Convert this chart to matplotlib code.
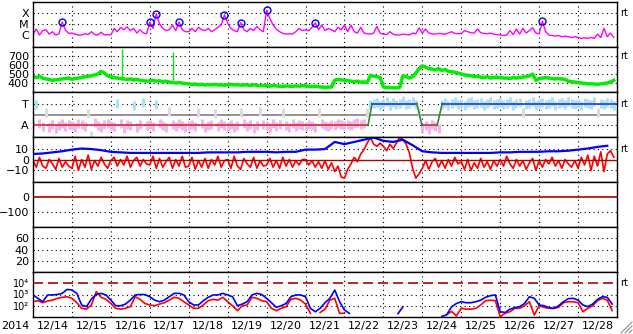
import numpy as np
import matplotlib
matplotlib.use('Agg')
import matplotlib.pyplot as plt
from matplotlib.lines import Line2D

nan = np.nan

# x-ray flux, 2-hourly, in units of 1e-6 W/m2 (C1 = 1)
xray = [1.2, 3.5, 1.0, 2.5, 3.0, 1.2, 2.0, 1.0, 1.3, 15, 2.8, 1.4,
        1.5, 1.2, 1.0, 1.0, 1.3, 1.1, 2.0, 1.1, 1.0, 1.8, 1.0, 1.1,
        1.0, 4.0, 2.0, 5.0, 3.0, 5.5, 2.5, 4.0, 1.5, 3.0, 1.5, 1.3,
        15, 4, 87, 10, 4, 2.5, 3, 8, 2.5, 15, 3, 2,
        2.0, 4, 2, 5, 3, 2.5, 4, 2, 3, 5, 8, 69,
        12, 4, 2.5, 2.0, 13, 3, 2, 4, 2.5, 6, 3, 2,
        180, 32, 8, 3.3, 2.0, 1.4, 1.2, 1.3, 1.2, 2.0, 4.0, 2.5,
        3, 2.5, 5, 12, 3, 8, 2.5, 4, 3, 2, 5, 3,
        8, 2, 8, 2, 1.5, 5, 1.5, 1.3, 1.2, 1.5, 6, 1.4,
        1.2, 1.1, 2.0, 1.2, 1.0, 1.0, 1.2, 1.1, 1.0, 1.5, 1.3, 4.5,
        1.5, 3.5, 1.5, 1.3, 1.2, 1.4, 1.3, 1.2, 1.5, 2.0, 1.4, 1.3,
        1.4, 2.5, 2.0, 1.6, 1.5, 3.5, 1.6, 1.4, 1.3, 1.5, 1.2, 1.1,
        1.0, 0.9, 1.0, 2.5, 1.1, 3.5, 1.2, 4.0, 1.5, 2.5, 4.5, 1.5,
        1.3, 18, 2, 1.0, 0.9, 0.8, 0.9, 0.7, 0.8, 0.7, 0.6, 0.7,
        0.6, 0.5, 0.55, 0.5, 0.6, 0.5, 1.2, 0.6, 4.0, 0.7, 1.5, 0.6]
flare_day = [0.75, 3.0, 3.167, 3.75, 4.917, 5.333, 6.0, 7.25, 13.083]
flare_val = [15, 15, 87, 15, 69, 12, 180, 12, 18]

# solar wind speed, 2-hourly, km/s
speed = [470, 460, 475, 455, 445, 440, 430, 435, 440, 445, 450, 455,
         440, 450, 455, 460, 470, 475, 480, 490, 500, 530, 510, 480,
         470, 460, 455, 450, 445, 440, 445, 435, 440, 430, 425, 420,
         425, 430, 420, 425, 415, 420, 410, 405, 400, 405, 398, 395,
         390, 385, 388, 380, 385, 378, 382, 380, 385, 378, 380, 375,
         380, 385, 378, 382, 375, 380, 378, 372, 380, 375, 370, 372,
         370, 365, 372, 368, 365, 360, 368, 365, 362, 368, 365, 370,
         368, 365, 360, 362, 358, 355, 352, 355, 355, 430, 440, 435,
         430, 425, 420, 415, 420, 410, 412, 405, 485, 475, 470, 460,
         355, 352, 350, 348, 345, 350, 480, 470, 455, 470, 510, 560,
         590, 575, 560, 555, 545, 560, 540, 550, 530, 525, 520, 510,
         500, 490, 485, 480, 470, 475, 465, 460, 470, 455, 460, 465,
         460, 455, 455, 450, 460, 455, 460, 465, 470, 480, 500, 430,
         450, 455, 460, 455, 450, 445, 448, 445, 440, 420, 415, 410,
         405, 400, 395, 390, 392, 388, 385, 390, 395, 400, 410, 430]
speed_spike_day = [2.29, 3.6]
speed_spike_val = [775, 745]

# IMF sector (T = +1, A = -1), 2-hourly
sector = [-1.0, 0.9, -0.8, -1.1, 0.2, -1.2, -0.9, -1.3, -1.0, -0.8, -1.1, -0.9,
          -1.0, -1.2, -0.8, -0.9, -1.1, 0.1, -1.9, -0.7, -1.0, -1.2, -0.9, -0.8,
          -1.0, -1.1, 1.0, -0.8, -1.3, -0.9, -1.0, 0.8, -1.2, -0.9, 1.1, -1.0,
          -0.9, -1.1, 0.9, -0.8, -1.0, -1.2, 0.3, -0.9, -1.1, -0.8, -1.0, -1.2,
          -1.0, -0.9, -1.1, 0.2, -0.8, -1.2, -1.0, -0.9, 0.1, -1.1, -0.8, -1.0,
          -1.1, -0.9, -1.2, -1.0, 0.2, -0.8, -1.1, -0.9, -1.3, -1.0, 0.3, -0.9,
          -1.0, -1.2, -0.8, -1.1, -0.9, 0.2, -1.0, -1.2, -0.8, -1.1, -0.9, -1.0,
          -1.1, -0.9, -1.0, -1.2, 0.2, -0.8, -1.0, -1.1, -0.9, -1.0, -0.8, -0.9,
          -1.0, -0.9, -1.0, -0.8, -0.7, -0.9, -0.8, 0.2, 0.9, 1.0, 1.1, 0.8,
          1.0, 1.2, 0.8, 1.1, 0.9, 1.0, 1.3, 0.9, 1.0, 1.2, 0.9, 0.2,
          -1.2, -1.0, -1.4, -0.9, -1.1, -1.3, 0.9, 1.1, 0.8, 1.0, 1.2, 0.9,
          1.0, 0.8, 1.1, 1.2, 0.9, 1.0, 1.1, 0.8, 1.0, 1.2, 0.9, 1.0,
          1.1, 0.9, 1.0, 1.2, 0.8, 1.0, 1.1, 0.2, 0.9, 1.0, 1.2, 0.8,
          1.0, 1.1, 0.9, 1.0, 1.2, 0.8, 1.0, 1.1, 0.9, 1.2, 1.0, 0.9,
          1.0, 0.8, 1.1, 1.0, 0.9, 1.2, 0.2, 1.0, 0.9, 1.1, 1.0, 0.8]
state_day = [0, 8.605, 8.71, 9.86, 9.99, 10.38, 10.51, 15]
state_lvl = [-1, -1, 1, 1, -1, -1, 1, 1]

# IMF Bt (6-hourly) and Bz (2-hourly), nT
bt = [5, 5.5, 6.5, 7.5, 9, 10, 9.5, 8.5, 7, 6.5, 6, 6,
      6, 6, 6, 6, 6, 6, 6.5, 6.5, 6.5, 6.5, 7, 7,
      7, 6.5, 7, 7, 9, 9, 9.5, 16, 14, 16, 18, 20,
      17, 16, 18, 13, 7.5, 6.5, 6, 6, 6, 6, 6, 6,
      6.5, 6.5, 7, 7, 7, 7.5, 7.5, 8, 9, 10, 11.5, 12.5]
bz = [-1, -7, 2, -6, -8, 0, -4, -9, 1, -7, -2, -6,
      -8, 3, -10, 0, -7, 4, -9, -1, -6, 2, -4, -8,
      -1, 2, -6, 0, -5, 3, -7, -1, 2, -6, 0, -4,
      -5, 3, -8, 1, -7, -2, 2, -8, 0, -6, 3, -7,
      -6, 2, -9, -1, -7, 1, -8, 0, -5, 3, -7, -1,
      0, -8, 3, -6, -9, 1, -4, -7, 2, -8, -1, -6,
      -5, 1, -7, -1, -8, 2, -6, 0, -7, -1, -5, 0,
      0, -5, -1, -7, -2, -8, -1, -9, -3, -11, -6, -16,
      -17, -9, -4, 2, -2, 5, 9, 15, 20, 14, 12, 15,
      12, 8, 14, 10, 15, 20, 18, 14, 6, -8, -17, -13,
      -8, -1, -9, -2, 1, -7, -1, -8, 0, -6, 2, -4,
      -2, -9, 0, -10, -3, -8, 1, -7, -2, -9, -1, -6,
      0, -6, 3, -4, -8, 0, -6, -1, -9, -3, 1, -10,
      -1, -7, 0, -4, 2, -6, -1, -8, 0, -4, -7, -1,
      -8, 2, -5, 4, -10, 3, -6, 7, -11, 5, 8, 2]

# >2 MeV electron flux, 3-hourly, log10
e_blue = [2.96, 2.66, 2.36, 2.96, 2.96, 3.0, 3.1, 3.45,
          3.4, 3.1, 2.07, 1.92, 2.6, 3.0, 3.1, 2.96,
          2.5, 2.0, 2.0, 2.15, 2.5, 2.96, 3.0, 3.0,
          2.8, 2.5, 2.36, 2.5, 2.8, 3.1, 3.1, 2.96,
          2.36, 2.07, 2.07, 2.45, 2.75, 2.96, 2.96, 3.1,
          2.96, 2.8, 2.0, 2.15, 2.36, 2.96, 3.1, 3.0,
          2.66, 2.27, 1.86, 2.0, 2.2, 2.8, 2.96, 2.96,
          2.8, 1.77, 1.47, 1.77, 2.27, 2.66, 3.4, 2.36,
          1.62, 1.33, nan, nan, nan, nan, nan, nan,
          nan, nan, nan, 1.3, 1.9, nan, nan, 1.3,
          nan, nan, nan, nan, 1.05, 1.2, 1.9, 2.2,
          2.36, 2.27, 2.27, 2.36, 2.5, 2.75, 2.9, 2.96,
          1.47, 1.4, 1.7, 1.83, 1.92, 2.2, 2.8, 2.66,
          2.07, 2.0, 1.83, 1.77, 2.0, 2.36, 2.63, 2.66,
          2.5, 2.07, 1.92, 2.15, 2.57, 2.8, 2.75, 2.15]
e_red = [2.36, 2.45, 2.27, 2.42, 2.5, 2.66, 2.75, 2.8,
         2.66, 2.27, 1.77, 1.7, 2.07, 3.25, 2.75, 2.57,
         2.2, 1.77, 1.7, 1.77, 1.92, 2.8, 2.57, 2.2,
         2.07, 2.0, 2.15, 2.27, 2.5, 2.75, 2.66, 2.36,
         2.07, 1.77, 1.77, 2.07, 2.45, 2.57, 2.5, 2.75,
         2.36, 2.0, 1.56, 2.0, 2.07, 2.75, 2.66, 2.45,
         2.36, 1.77, 1.56, 1.77, 1.92, 2.57, 2.66, 2.5,
         2.15, 1.33, nan, 1.4, 1.7, 2.5, 2.66, 1.33,
         1.33, nan, nan, nan, nan, nan, nan, nan,
         nan, nan, nan, nan, 1.4, nan, nan, nan,
         nan, nan, nan, nan, nan, 1.2, 1.5, 1.1,
         1.77, 1.7, 1.7, 1.77, 2.07, 2.45, 2.5, 2.45,
         1.03, 1.33, 1.47, 1.77, 1.77, 2.0, 2.36, 1.18,
         2.0, 1.86, 1.77, 1.77, 1.86, 2.27, 2.36, 2.36,
         2.27, 1.47, 1.77, 2.0, 2.45, 2.66, 2.5, 1.56]

day_labels = ['12/14', '12/15', '12/16', '12/17', '12/18', '12/19', '12/20', '12/21',
              '12/22', '12/23', '12/24', '12/25', '12/26', '12/27', '12/28']

t2 = np.arange(len(xray)) / 12.0
t3 = np.arange(len(e_blue)) / 8.0
t6 = np.arange(len(bt)) / 4.0

W, H = 633, 334
fig = plt.figure(figsize=(W / 100, H / 100), dpi=100)
plt.rcParams['font.family'] = 'DejaVu Sans'
tops = [2, 47, 92, 137, 182, 227, 272]
ph = 45
dot = (0, (1, 3))
fs = 8
axs = []
for top in tops:
    ax = fig.add_axes([33 / W, 1 - (top + ph) / H, 584 / W, ph / H])
    ax.set_xlim(0, 15)
    for d in range(1, 15):
        ax.axvline(d, color='k', ls=dot, lw=0.8)
    for s in ax.spines.values():
        s.set_linewidth(1.0)
    ax.tick_params(length=0, pad=3, labelsize=fs)
    ax.set_xticks([])
    axs.append(ax)

def rt(ax, y):
    ax.text(1.005, y, 'rt', transform=ax.get_yaxis_transform(), fontsize=7,
            va='center', ha='left', clip_on=False)

# x-ray
ax = axs[0]
ax.set_yscale('log')
ax.set_ylim(10 ** -7.09, 1e-3)
ax.minorticks_off()
for v in [1e-4, 1e-5]:
    ax.axhline(v, color='k', ls=dot, lw=0.8)
ax.plot(t2, np.array(xray) * 1e-6, color='#ff00ff', lw=1)
ax.plot(flare_day, np.array(flare_val) * 1e-6, 'o', mfc='none', mec='#0000ff', ms=5, mew=1)
ax.set_yticks([1e-4, 1e-5, 1e-6])
ax.set_yticklabels(['X', 'M', 'C'])
rt(ax, 1e-4)

# speed
ax = axs[1]
ax.set_ylim(300, 800)
for v in [400, 500, 600, 700]:
    ax.axhline(v, color='k', ls=dot, lw=0.8)
ax.plot(t2, speed, color='#00ee00', lw=2.5)
ax.vlines(speed_spike_day, 430, speed_spike_val, color='#00ee00', lw=1)
ax.set_yticks([400, 500, 600, 700])
rt(ax, 700)

# sector
ax = axs[2]
ax.set_ylim(-2.05, 2.05)
for v in [1, -1]:
    ax.axhline(v, color='k', ls=dot, lw=0.8)
ax.axhline(0, color='#808080', lw=1.2)
sv = np.array(sector)
cols = ['#a8e4f4' if v > 0.45 else ('#f4b4ec' if v < -0.45 and v > -1.6 else '#dcdcdc') for v in sv]
ax.vlines(t2, sv - 0.4, sv + 0.4, colors=cols, lw=2.2)
for i in range(len(state_day) - 1):
    a, b = state_lvl[i], state_lvl[i + 1]
    c = '#cc3333' if a == b == -1 else ('#3333cc' if a == b == 1 else '#338833')
    ax.plot(state_day[i:i + 2], state_lvl[i:i + 2], color=c, lw=1.2)
ax.set_yticks([1, -1])
ax.set_yticklabels(['T', 'A'])
rt(ax, 1)

# Bt / Bz
ax = axs[3]
ax.set_ylim(-20.5, 20.5)
for v in [10, -10]:
    ax.axhline(v, color='k', ls=dot, lw=0.8)
ax.plot(t2, bz, color='#ff0000', lw=1.2)
ax.axhline(0, color='#b00000', lw=1.0)
ax.plot(t6, bt, color='#0000ff', lw=1.6)
ax.set_yticks([10, 0, -10])
rt(ax, 10)

# empty panel (0 / -100)
ax = axs[4]
ax.set_ylim(-200, 100)
ax.axhline(-100, color='k', ls=dot, lw=0.8)
ax.axhline(0, color='#b00000', lw=1.2)
ax.set_yticks([0, -100])

# empty panel (20..60)
ax = axs[5]
ax.set_ylim(0, 80)
for v in [20, 40, 60]:
    ax.axhline(v, color='k', ls=dot, lw=0.8)
ax.set_yticks([60, 40, 20])

# electrons
ax = axs[6]
ax.set_yscale('log')
ax.set_ylim(10, 1e5)
ax.minorticks_off()
for v in [1e3, 1e2]:
    ax.axhline(v, color='k', ls=dot, lw=0.8)
ax.axhline(1e4, color='#b00000', lw=1.2, ls=(0, (6, 3)))
ax.plot(t3, 10 ** np.array(e_red), color='#ff0000', lw=1.2)
ax.plot(t3, 10 ** np.array(e_blue), color='#0000ff', lw=1.2)
ax.set_yticks([1e4, 1e3, 1e2])
ax.set_yticklabels(['10\u2074', '10\u00b3', '10\u00b2'], fontsize=7)
ax.set_xticks(np.arange(15) + 0.5)
ax.set_xticklabels(day_labels, fontsize=fs)
ax.tick_params(axis='x', pad=3)
rt(ax, 1e4)

fig.text(15 / W, 1 - 326 / H, '2014', ha='center', va='center', fontsize=fs)

for k in range(3):
    o = 4 + 4 * k
    fig.add_artist(Line2D([(W - o) / W, (W - 1) / W], [1 / H, (o) / H],
                          color='#909090', lw=0.8))

fig.savefig('out.png', dpi=100)
